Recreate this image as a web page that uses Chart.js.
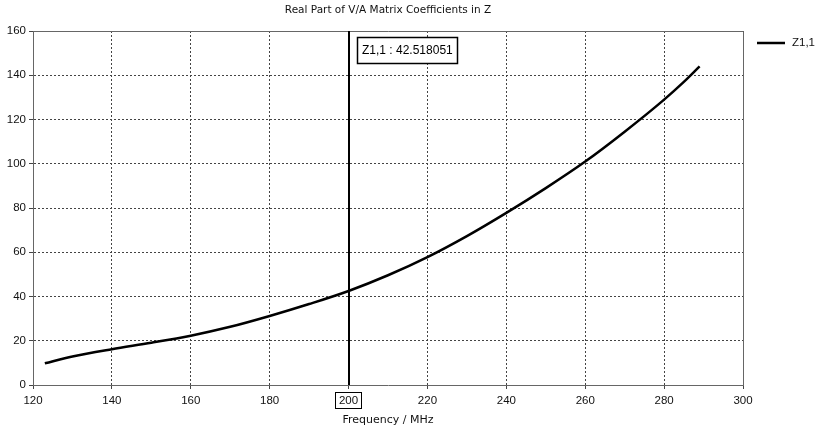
<!DOCTYPE html>
<html>
<head>
<meta charset="utf-8">
<script src="https://cdn.jsdelivr.net/npm/chart.js@4/dist/chart.umd.min.js"></script>
<style>
  html, body { margin: 0; padding: 0; background: #fff; }
  #wrap { width: 820px; height: 433px; position: relative; }
</style>
</head>
<body>
<div id="wrap"><canvas id="c" width="820" height="433"></canvas></div>
<script>
const chartTitle = 'Real Part of V/A Matrix Coefficients in Z';
const xAxisTitle = 'Frequency / MHz';
const seriesName = 'Z1,1';
const frequencies = [123, 130, 140, 150, 160, 170, 180, 190, 200, 210, 220, 230, 240, 250, 260, 270, 280, 285, 289];
const realZ11 = [9.8, 12.9, 16.2, 19.1, 22.3, 26.3, 31.2, 36.6, 42.5, 49.6, 57.8, 67.3, 77.8, 89.0, 101.0, 114.5, 129.0, 137.0, 144.0];
const cursorFreq = 200;
const cursorValue = '42.518051';
const xTicks = [120, 140, 160, 180, 200, 220, 240, 260, 280, 300];
const yTicks = [0, 20, 40, 60, 80, 100, 120, 140, 160];

const TEXT_FONT = '"DejaVu Sans", sans-serif';
const NUM_FONT = '"Liberation Sans", Arial, sans-serif';

const overlay = {
  id: 'overlay',
  afterDraw(chart) {
    const { ctx, chartArea: { left, top, right, bottom }, scales: { x } } = chart;
    ctx.save();
    // frame (top and right)
    ctx.strokeStyle = '#666';
    ctx.lineWidth = 1;
    ctx.setLineDash([]);
    ctx.beginPath();
    ctx.moveTo(left, top + 0.5); ctx.lineTo(right + 0.5, top + 0.5); ctx.lineTo(right + 0.5, bottom);
    ctx.stroke();
    // cursor line
    const cx = Math.round(x.getPixelForValue(cursorFreq));
    ctx.strokeStyle = '#000';
    ctx.lineWidth = 2;
    ctx.beginPath();
    ctx.moveTo(cx, top); ctx.lineTo(cx, bottom);
    ctx.stroke();
    // cursor label box
    ctx.font = '12px ' + NUM_FONT;
    ctx.textBaseline = 'middle';
    ctx.textAlign = 'left';
    const label = seriesName + ' : ' + cursorValue;
    const tw = ctx.measureText(label).width;
    const bx = cx + 8.5, by = top + 6.5, bw = Math.round(tw + 9), bh = 26;
    ctx.fillStyle = '#fff';
    ctx.fillRect(bx, by, bw, bh);
    ctx.lineWidth = 1.5;
    ctx.strokeRect(bx, by, bw, bh);
    ctx.fillStyle = '#000';
    ctx.fillText(label, bx + 4.5, by + bh / 2 + 0.5);
    // boxed cursor tick
    ctx.font = '11px ' + NUM_FONT;
    const tw2 = ctx.measureText(String(cursorFreq)).width;
    const tbw = Math.round(tw2 + 8);
    ctx.lineWidth = 1;
    ctx.strokeStyle = '#000';
    ctx.strokeRect(Math.round(cx - 1 - tbw / 2) + 0.5, 392.5, tbw, 16);
    // title
    ctx.font = '10.5px ' + TEXT_FONT;
    ctx.textAlign = 'center';
    ctx.fillStyle = '#111';
    ctx.fillText(chartTitle, (left + right) / 2, 10);
    // legend
    ctx.strokeStyle = '#000';
    ctx.lineWidth = 2.5;
    ctx.beginPath();
    ctx.moveTo(757, 43); ctx.lineTo(785, 43);
    ctx.stroke();
    ctx.textAlign = 'left';
    ctx.fillStyle = '#111';
    ctx.font = '11.5px ' + NUM_FONT;
    ctx.fillText(chart.data.datasets[0].label, 792, 43);
    ctx.restore();
  }
};

new Chart(document.getElementById('c'), {
  type: 'line',
  data: {
    datasets: [{
      label: seriesName,
      data: frequencies.map((f, i) => ({ x: f, y: realZ11[i] })),
      borderColor: '#000',
      borderWidth: 2.5,
      pointRadius: 0,
      fill: false,
      cubicInterpolationMode: 'monotone'
    }]
  },
  options: {
    responsive: false,
    animation: false,
    devicePixelRatio: 1,
    layout: { padding: { top: 31, right: 77, left: 0, bottom: 0 } },
    plugins: { legend: { display: false }, title: { display: false }, tooltip: { enabled: false } },
    scales: {
      x: {
        type: 'linear',
        min: 120, max: 300,
        afterBuildTicks: s => { s.ticks = xTicks.map(v => ({ value: v })); },
        afterFit: s => { s.height = 48; },
        grid: { color: '#444', lineWidth: 1, tickLength: 4, tickColor: '#444' },
        border: { display: true, color: '#666', width: 1, dash: [2, 2] },
        ticks: { color: '#111', font: { family: NUM_FONT, size: 11.5 }, padding: 5, maxRotation: 0 },
        title: { display: true, text: xAxisTitle, color: '#111', font: { family: TEXT_FONT, size: 11 }, padding: { top: 0, bottom: 6 } }
      },
      y: {
        min: 0, max: 160,
        afterBuildTicks: s => { s.ticks = yTicks.map(v => ({ value: v })); },
        afterFit: s => { s.width = 33; },
        grid: { color: '#444', lineWidth: 1, tickLength: 4, tickColor: '#444' },
        border: { display: true, color: '#666', width: 1, dash: [2, 2] },
        ticks: { color: '#111', font: { family: NUM_FONT, size: 11.5 }, padding: 3 }
      }
    }
  },
  plugins: [overlay]
});
</script>
</body>
</html>
